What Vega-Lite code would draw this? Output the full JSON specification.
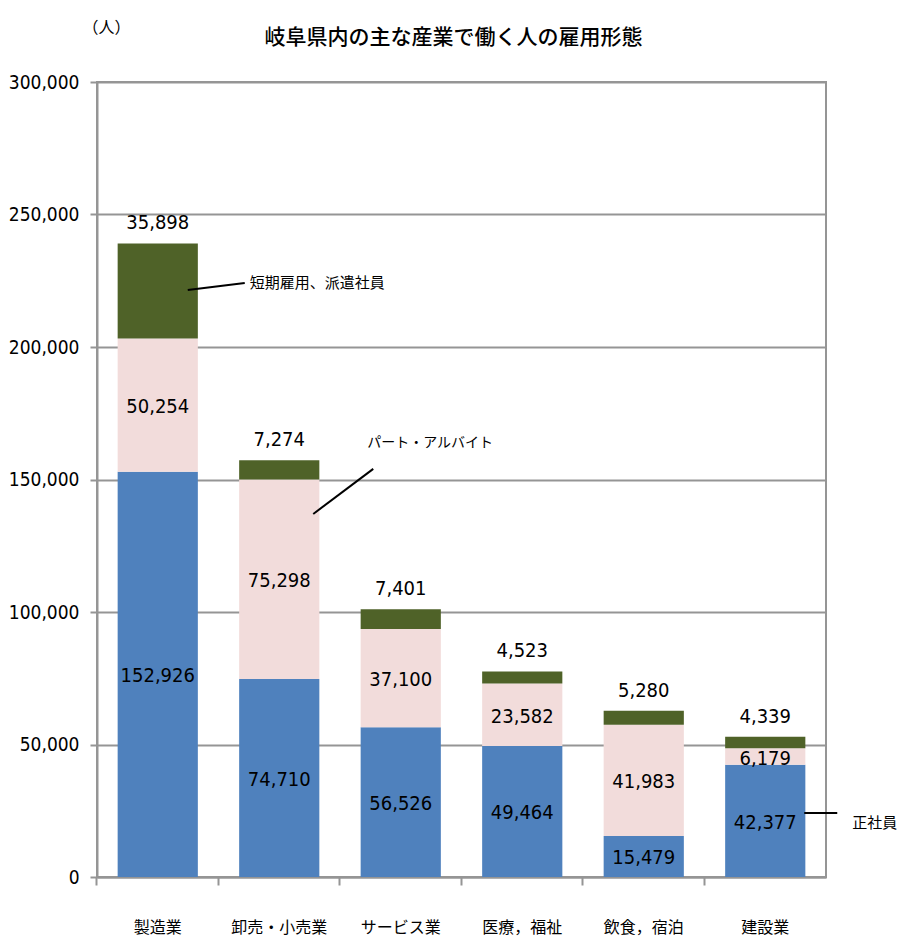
{
  "$schema": "https://vega.github.io/schema/vega-lite/v6.json",
  "width": 729,
  "height": 795,
  "autosize": {"type": "none"},
  "padding": {"left": 97, "top": 82, "right": 74, "bottom": 62},
  "background": "white",
  "title": {
    "text": "岐阜県内の主な産業で働く人の雇用形態",
    "frame": "group",
    "anchor": "middle",
    "baseline": "middle",
    "offset": -40,
    "dx": -8,
    "font": "Noto Sans CJK JP",
    "fontSize": 21,
    "fontWeight": 500,
    "color": "#000000"
  },
  "config": {
    "numberFormat": ",",
    "view": {"stroke": "#959595", "strokeWidth": 2},
    "axis": {
      "domainColor": "#959595",
      "domainWidth": 2,
      "tickColor": "#959595",
      "tickWidth": 2,
      "labelColor": "#000000",
      "titleColor": "#000000"
    }
  },
  "datasets": {
    "main": [
      {"category": "製造業", "type": "正社員", "rank": 1, "value": 152926},
      {"category": "製造業", "type": "パート・アルバイト", "rank": 2, "value": 50254},
      {"category": "製造業", "type": "短期雇用、派遣社員", "rank": 3, "value": 35898},
      {"category": "卸売・小売業", "type": "正社員", "rank": 1, "value": 74710},
      {"category": "卸売・小売業", "type": "パート・アルバイト", "rank": 2, "value": 75298},
      {"category": "卸売・小売業", "type": "短期雇用、派遣社員", "rank": 3, "value": 7274},
      {"category": "サービス業", "type": "正社員", "rank": 1, "value": 56526},
      {"category": "サービス業", "type": "パート・アルバイト", "rank": 2, "value": 37100},
      {"category": "サービス業", "type": "短期雇用、派遣社員", "rank": 3, "value": 7401},
      {"category": "医療，福祉", "type": "正社員", "rank": 1, "value": 49464},
      {"category": "医療，福祉", "type": "パート・アルバイト", "rank": 2, "value": 23582},
      {"category": "医療，福祉", "type": "短期雇用、派遣社員", "rank": 3, "value": 4523},
      {"category": "飲食，宿泊", "type": "正社員", "rank": 1, "value": 15479},
      {"category": "飲食，宿泊", "type": "パート・アルバイト", "rank": 2, "value": 41983},
      {"category": "飲食，宿泊", "type": "短期雇用、派遣社員", "rank": 3, "value": 5280},
      {"category": "建設業", "type": "正社員", "rank": 1, "value": 42377},
      {"category": "建設業", "type": "パート・アルバイト", "rank": 2, "value": 6179},
      {"category": "建設業", "type": "短期雇用、派遣社員", "rank": 3, "value": 4339}
    ],
    "notes": [
      {"note": "短期雇用、派遣社員", "category": "製造業", "lineFrom": 221500, "lineTo": 224150, "labelAt": 224150},
      {"note": "パート・アルバイト", "category": "卸売・小売業", "lineFrom": 137000, "lineTo": 154000, "labelAt": 163800},
      {"note": "正社員", "category": "建設業", "lineFrom": 24150, "lineTo": 24150, "labelAt": 20400}
    ]
  },
  "layer": [
    {
      "data": {"name": "main"},
      "mark": {"type": "bar"},
      "encoding": {
        "x": {
          "field": "category",
          "type": "nominal",
          "sort": ["製造業", "卸売・小売業", "サービス業", "医療，福祉", "飲食，宿泊", "建設業"],
          "scale": {"paddingInner": 0.34, "paddingOuter": 0.17},
          "axis": {
            "title": null,
            "labelAngle": 0,
            "bandPosition": -0.2594,
            "tickSize": 8,
            "labelPadding": 34,
            "labelFont": "Noto Sans CJK JP",
            "labelFontSize": 16,
            "grid": false
          }
        },
        "y": {
          "field": "value",
          "type": "quantitative",
          "stack": "zero",
          "scale": {"domain": [0, 300000], "nice": false},
          "axis": {
            "values": [0, 50000, 100000, 150000, 200000, 250000, 300000],
            "format": ",",
            "labelExpr": "format(datum.value, ',')",
            "grid": true,
            "gridColor": "#959595",
            "gridWidth": 2,
            "tickSize": 7,
            "labelPadding": 11,
            "labelFont": "'DejaVu Sans Condensed', 'Liberation Sans', sans-serif",
            "labelFontSize": 19,
            "title": "（人）",
            "titleAngle": 0,
            "titleX": 9,
            "titleY": -55,
            "titleAlign": "center",
            "titleBaseline": "middle",
            "titleFont": "Noto Sans CJK JP",
            "titleFontSize": 16,
            "titleFontWeight": "normal"
          }
        },
        "color": {
          "field": "type",
          "type": "nominal",
          "scale": {
            "domain": ["正社員", "パート・アルバイト", "短期雇用、派遣社員"],
            "range": ["#4F81BD", "#F2DCDB", "#4F6228"]
          },
          "legend": null
        },
        "order": {"field": "rank", "type": "quantitative", "sort": "ascending"}
      }
    },
    {
      "data": {"name": "main"},
      "transform": [
        {"stack": "value", "groupby": ["category"], "sort": [{"field": "rank", "order": "ascending"}], "as": ["y0", "y1"]},
        {"filter": "datum.rank < 3"},
        {"fold": ["y0", "y1"], "as": ["edge", "pos"]},
        {"aggregate": [{"op": "mean", "field": "pos", "as": "mid"}], "groupby": ["category", "value", "rank"]}
      ],
      "mark": {
        "type": "text",
        "font": "'DejaVu Sans Condensed', 'Liberation Sans', sans-serif",
        "fontSize": 20,
        "color": "#000000",
        "baseline": "middle",
        "dy": 2
      },
      "encoding": {
        "x": {"field": "category", "type": "nominal", "sort": ["製造業", "卸売・小売業", "サービス業", "医療，福祉", "飲食，宿泊", "建設業"]},
        "y": {"field": "mid", "type": "quantitative"},
        "text": {"field": "value", "type": "quantitative", "format": ","}
      }
    },
    {
      "data": {"name": "main"},
      "transform": [
        {"stack": "value", "groupby": ["category"], "sort": [{"field": "rank", "order": "ascending"}], "as": ["y0", "y1"]},
        {"filter": "datum.rank == 3"}
      ],
      "mark": {
        "type": "text",
        "font": "'DejaVu Sans Condensed', 'Liberation Sans', sans-serif",
        "fontSize": 20,
        "color": "#000000",
        "baseline": "middle",
        "dy": -20
      },
      "encoding": {
        "x": {"field": "category", "type": "nominal", "sort": ["製造業", "卸売・小売業", "サービス業", "医療，福祉", "飲食，宿泊", "建設業"]},
        "y": {"field": "y1", "type": "quantitative"},
        "text": {"field": "value", "type": "quantitative", "format": ","}
      }
    },
    {
      "data": {"name": "notes"},
      "transform": [{"filter": "datum.category == '製造業'"}],
      "mark": {"type": "rule", "color": "#000000", "strokeWidth": 2, "xOffset": 30, "x2Offset": 87},
      "encoding": {
        "x": {"field": "category", "type": "nominal", "sort": ["製造業", "卸売・小売業", "サービス業", "医療，福祉", "飲食，宿泊", "建設業"]},
        "x2": {"field": "category"},
        "y": {"field": "lineFrom", "type": "quantitative"},
        "y2": {"field": "lineTo"}
      }
    },
    {
      "data": {"name": "notes"},
      "transform": [{"filter": "datum.category == '卸売・小売業'"}],
      "mark": {"type": "rule", "color": "#000000", "strokeWidth": 2, "xOffset": 34, "x2Offset": 94},
      "encoding": {
        "x": {"field": "category", "type": "nominal", "sort": ["製造業", "卸売・小売業", "サービス業", "医療，福祉", "飲食，宿泊", "建設業"]},
        "x2": {"field": "category"},
        "y": {"field": "lineFrom", "type": "quantitative"},
        "y2": {"field": "lineTo"}
      }
    },
    {
      "data": {"name": "notes"},
      "transform": [{"filter": "datum.category == '建設業'"}],
      "mark": {"type": "rule", "color": "#000000", "strokeWidth": 2, "xOffset": 39, "x2Offset": 72},
      "encoding": {
        "x": {"field": "category", "type": "nominal", "sort": ["製造業", "卸売・小売業", "サービス業", "医療，福祉", "飲食，宿泊", "建設業"]},
        "x2": {"field": "category"},
        "y": {"field": "lineFrom", "type": "quantitative"},
        "y2": {"field": "lineTo"}
      }
    },
    {
      "data": {"name": "notes"},
      "transform": [{"filter": "datum.category == '製造業'"}],
      "mark": {"type": "text", "align": "left", "baseline": "middle", "dx": 92, "font": "Noto Sans CJK JP", "fontSize": 15, "color": "#000000"},
      "encoding": {
        "x": {"field": "category", "type": "nominal", "sort": ["製造業", "卸売・小売業", "サービス業", "医療，福祉", "飲食，宿泊", "建設業"]},
        "y": {"field": "labelAt", "type": "quantitative"},
        "text": {"field": "note", "type": "nominal"}
      }
    },
    {
      "data": {"name": "notes"},
      "transform": [{"filter": "datum.category == '卸売・小売業'"}],
      "mark": {"type": "text", "align": "left", "baseline": "middle", "dx": 88, "font": "Noto Sans CJK JP", "fontSize": 14, "color": "#000000"},
      "encoding": {
        "x": {"field": "category", "type": "nominal", "sort": ["製造業", "卸売・小売業", "サービス業", "医療，福祉", "飲食，宿泊", "建設業"]},
        "y": {"field": "labelAt", "type": "quantitative"},
        "text": {"field": "note", "type": "nominal"}
      }
    },
    {
      "data": {"name": "notes"},
      "transform": [{"filter": "datum.category == '建設業'"}],
      "mark": {"type": "text", "align": "left", "baseline": "middle", "dx": 87, "font": "Noto Sans CJK JP", "fontSize": 15, "color": "#000000"},
      "encoding": {
        "x": {"field": "category", "type": "nominal", "sort": ["製造業", "卸売・小売業", "サービス業", "医療，福祉", "飲食，宿泊", "建設業"]},
        "y": {"field": "labelAt", "type": "quantitative"},
        "text": {"field": "note", "type": "nominal"}
      }
    }
  ]
}
